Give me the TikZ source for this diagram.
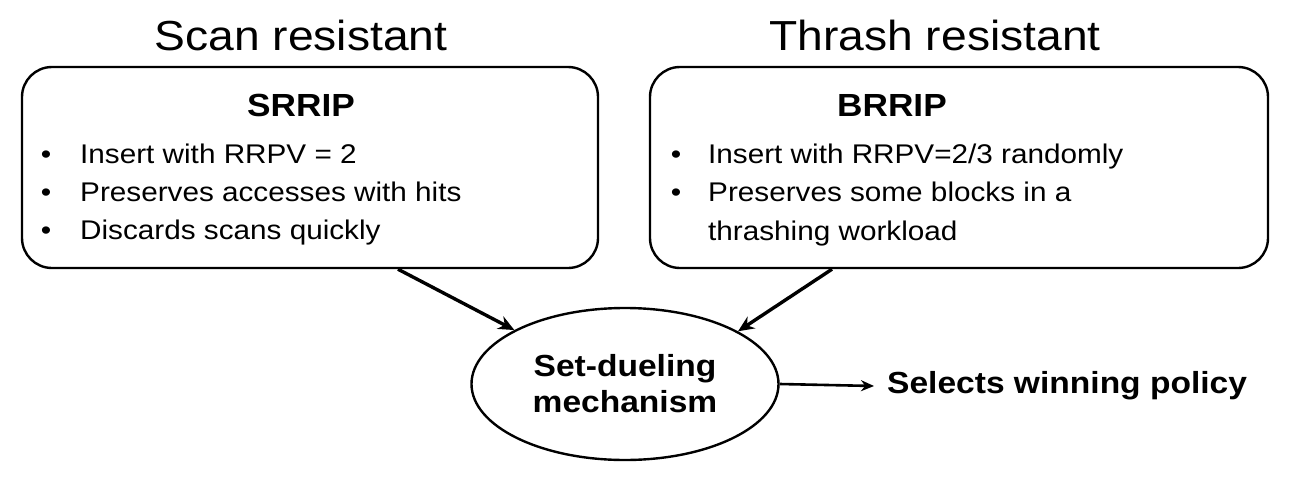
\documentclass[tikz,border=0pt]{standalone}
\usepackage{fontspec}
\setmainfont{Liberation Sans}[FakeStretch=1.1]
\usetikzlibrary{arrows.meta,shapes.geometric}
\tikzset{
  box/.style={draw=black,line width=2.4pt,rounded corners=30pt,minimum width=#1,minimum height=201pt,inner sep=0pt},
  title/.style={anchor=base,font=\fontsize{42}{48}\selectfont},
  head/.style={anchor=base,font=\fontsize{32}{36}\selectfont\bfseries},
  item/.style={anchor=base west,inner sep=0pt,font=\fontsize{27}{32}\selectfont},
  bul/.style={anchor=base,inner sep=0pt,font=\fontsize{27}{32}\selectfont},
  conn/.style={line width=3.4pt,-{Stealth[length=16pt,width=14pt]}},
  outarr/.style={line width=2.6pt,-{Stealth[length=13pt,width=11pt]}},
}
\begin{document}
\begin{tikzpicture}[x=1pt,y=-1pt]
\useasboundingbox (0,0) rectangle (1291,477);
\node[box=576pt] (lbox) at (310,167.5) {};
\node[box=618pt] (rbox) at (959,167.5) {};
\node[title] (tl) at (301,50) {Scan resistant};
\node[title] (tr) at (935,50) {Thrash resistant};
\node[head] (hl) at (301,116) {SRRIP};
\node[head] (hr) at (892,116) {BRRIP};
\node[bul] (bl1) at (46,163) {•};
\node[bul] (bl2) at (46,201) {•};
\node[bul] (bl3) at (46,239) {•};
\node[item] (l1) at (80,163) {Insert with RRPV = 2};
\node[item] (l2) at (80,201) {Preserves accesses with hits};
\node[item] (l3) at (80,239) {Discards scans quickly};
\node[bul] (br1) at (676,163) {•};
\node[bul] (br2) at (676,201) {•};
\node[item] (r1) at (708,163) {Insert with RRPV=2/3 randomly};
\node[item] (r2) at (708,201) {Preserves some blocks in a};
\node[item] (r3) at (708,240) {thrashing workload};
\node[draw=black,line width=2.4pt,ellipse,minimum width=307pt,minimum height=152pt,inner sep=0pt,align=center,font=\fontsize{30.5}{36}\selectfont\bfseries] (duel) at (625,384) {Set-dueling\\mechanism};
\node[anchor=west,inner sep=0pt,font=\fontsize{30.5}{36}\selectfont\bfseries] (sel) at (887,386) {Selects winning policy};
\draw[conn] ([xshift=88pt]lbox.south) -- (duel.154);
\draw[conn] ([xshift=-127pt]rbox.south) -- (duel.25);
\draw[outarr] (duel.east) -- ([xshift=-13pt]sel.west);
\end{tikzpicture}
\end{document}
